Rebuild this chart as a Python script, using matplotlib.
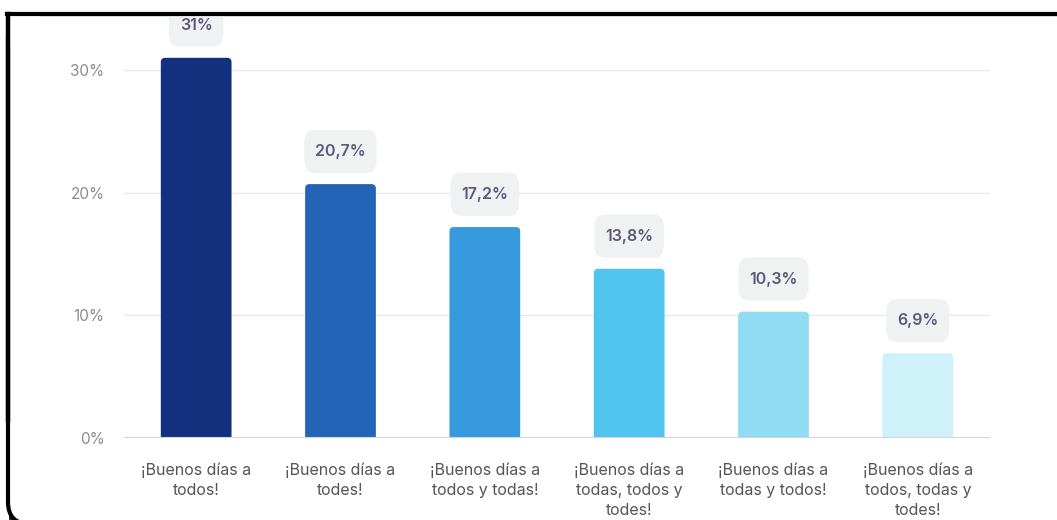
import matplotlib
matplotlib.use("Agg")
import matplotlib.pyplot as plt
from matplotlib.patches import Rectangle, FancyBboxPatch
from matplotlib.lines import Line2D
from matplotlib.transforms import IdentityTransform

plt.rcParams["font.family"] = ["Inter", "DejaVu Sans"]

categories = [
    "¡Buenos días a\ntodos!",
    "¡Buenos días a\ntodes!",
    "¡Buenos días a\ntodos y todas!",
    "¡Buenos días a\ntodas, todos y\ntodes!",
    "¡Buenos días a\ntodas y todos!",
    "¡Buenos días a\ntodos, todas y\ntodes!",
]
values = [31, 20.7, 17.2, 13.8, 10.3, 6.9]
labels = ["31%", "20,7%", "17,2%", "13,8%", "10,3%", "6,9%"]
colors = ["#13307f", "#2364b6", "#3799dd", "#50c3ee", "#8fdcf3", "#cff1f9"]
yticks = [0, 10, 20, 30]
ytick_labels = ["0%", "10%", "20%", "30%"]

W, H = 1057, 520
fig = plt.figure(figsize=(W / 100, H / 100), dpi=100)
ax = fig.add_axes([124 / W, 82 / H, 866 / W, 417 / H])
ax.patch.set_visible(False)

ax.set_xlim(-0.5, len(values) - 0.5)
ax.set_ylim(0, 34)

# bars with rounded tops (bottom pushed below 0 and clipped)
bw = 0.49
px_x = 866 / len(values)
px_y = 417 / 34
for i, (v, c) in enumerate(zip(values, colors)):
    p = FancyBboxPatch((i - bw / 2, -1), bw, v + 1,
                       boxstyle="round,pad=0,rounding_size=0.03",
                       mutation_aspect=px_x / px_y,
                       fc=c, ec="none", zorder=3)
    ax.add_patch(p)

for i, (v, lab) in enumerate(zip(values, labels)):
    ax.annotate(lab, (i, v), xytext=(0, 23.5), textcoords="offset points",
                ha="center", va="center", fontsize=11.5, fontweight="semibold",
                color="#5b5a78", zorder=4, annotation_clip=False,
                bbox=dict(boxstyle="round,pad=0.68,rounding_size=0.65",
                          mutation_aspect=1.3, fc="#f0f1f2", ec="none"))

ax.set_yticks(yticks)
ax.set_yticklabels(ytick_labels)
ax.set_xticks(range(len(values)))
ax.set_xticklabels(categories, linespacing=1.4)
ax.tick_params(axis="y", length=0, pad=14, labelsize=11, labelcolor="#8c8c8c")
ax.tick_params(axis="x", length=0, pad=18, labelsize=11.5, labelcolor="#555555")

for y in yticks[1:]:
    ax.axhline(y, color="#e8e8ec", lw=1, zorder=1)
ax.axhline(0, color="#cdd3ea", lw=1.5, zorder=4)
for s in ax.spines.values():
    s.set_visible(False)

# screenshot frame (pixel coordinates, origin bottom-left)
px = IdentityTransform()
fig.add_artist(Rectangle((9, 0), 50, 20, transform=px, fc="#2a2a2a", ec="none", zorder=-3))
fig.add_artist(FancyBboxPatch((8, -4), 1200, H - 14 + 4, transform=px,
                              boxstyle="round,pad=0,rounding_size=22",
                              fc="white", ec="black", lw=3, zorder=-2))
fig.add_artist(Rectangle((10, H - 45), 30, 30, transform=px, fc="white", ec="none", zorder=-1))
fig.add_artist(Rectangle((0, H - 12), W, 12, transform=px, fc="white", ec="none", zorder=10))
fig.add_artist(Line2D([7, W], [H - 14, H - 14], transform=px, color="black", lw=3, zorder=11))
fig.add_artist(Line2D([8, 8], [H - 14, 100], transform=px, color="black", lw=3.2, zorder=11))

fig.savefig("out.png", dpi=100)
